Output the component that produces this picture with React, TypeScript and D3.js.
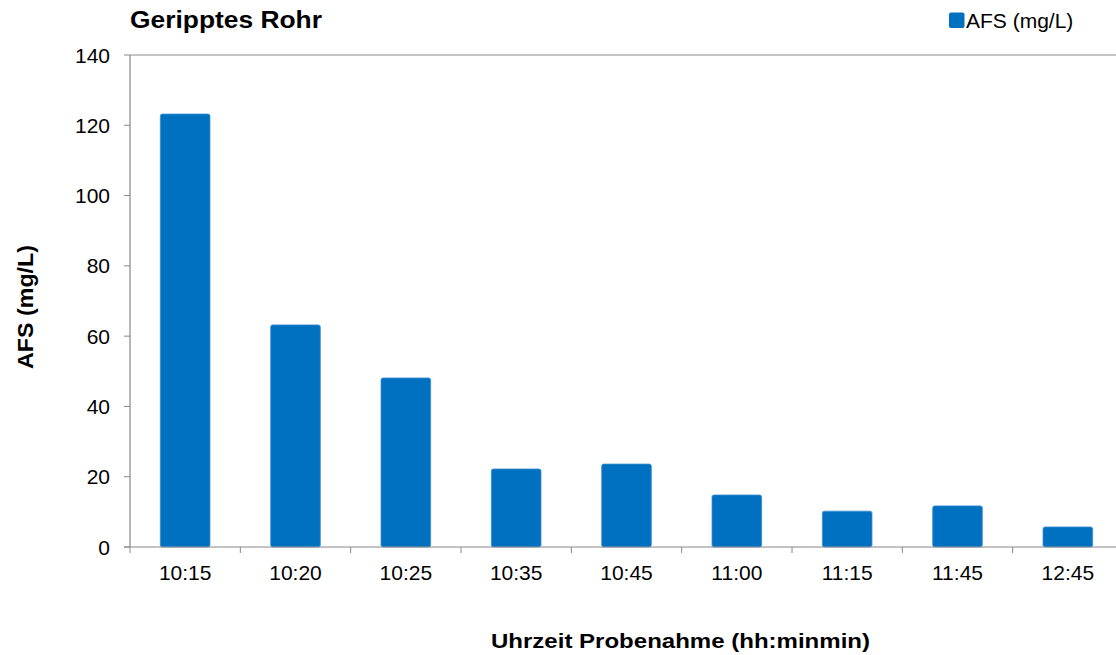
import React from "react";
import * as d3 from "d3";

const categories = ["10:15", "10:20", "10:25", "10:35", "10:45", "11:00", "11:15", "11:45", "12:45"];
const afsValues = [123.2, 63.2, 48.1, 22.2, 23.6, 14.8, 10.2, 11.7, 5.7];
const yTicks = [0, 20, 40, 60, 80, 100, 120, 140];

const W = 1116;
const H = 655;
const left = 130;
const right = 1123;
const top = 55;
const bottom = 547;
const font = "'Liberation Sans', Arial, sans-serif";
const barColor = "#0070C0";

export default function App() {
  const x = d3.scaleBand<string>().domain(categories).range([left, right]).paddingInner(0).paddingOuter(0);
  const y = d3.scaleLinear().domain([0, 140]).range([bottom, top]);
  const bw = x.bandwidth() * 0.45;
  return (
    <svg width={W} height={H} style={{ position: "absolute", left: 0, top: 0, background: "#fff" }}>
      <text x={130} y={28} fontFamily={font} fontWeight="bold" fontSize={23} fill="#000"
        textLength={192} lengthAdjust="spacingAndGlyphs">Geripptes Rohr</text>
      <rect x={949} y={12.5} width={15.5} height={15.5} rx={2} fill={barColor} />
      <text x={966} y={28} fontFamily={font} fontSize={21} fill="#000">AFS (mg/L)</text>
      {/* top border line */}
      <line x1={left} x2={W} y1={y(140)} y2={y(140)} stroke="#888" strokeWidth={1} />
      {categories.map((c, i) => {
        const cx = (x(c) as number) + x.bandwidth() / 2;
        const v = afsValues[i];
        return (
          <rect key={c} x={cx - bw / 2} y={y(v)} width={bw} height={bottom - y(v)} rx={2}
            fill={barColor} stroke="#3d8fd0" strokeWidth={0.8} />
        );
      })}
      {/* y axis */}
      <line x1={left} x2={left} y1={top} y2={bottom} stroke="#888" strokeWidth={1.2} />
      {yTicks.map((t) => (
        <g key={t}>
          <line x1={left - 6} x2={left} y1={y(t)} y2={y(t)} stroke="#888" strokeWidth={1} />
          <text x={110} y={y(t) + 7.5} textAnchor="end" fontFamily={font} fontSize={21} fill="#000">{t}</text>
        </g>
      ))}
      {/* x axis */}
      <line x1={left - 6} x2={W} y1={bottom} y2={bottom} stroke="#888" strokeWidth={1.2} />
      {categories.map((c, i) => (
        <line key={"t" + c} x1={left + i * x.bandwidth()} x2={left + i * x.bandwidth()} y1={bottom} y2={bottom + 6} stroke="#888" strokeWidth={1} />
      ))}
      <line x1={right} x2={right} y1={bottom} y2={bottom + 6} stroke="#888" strokeWidth={1} />
      {categories.map((c) => (
        <text key={"l" + c} x={(x(c) as number) + x.bandwidth() / 2} y={580} textAnchor="middle" fontFamily={font} fontSize={21} fill="#000">{c}</text>
      ))}
      <text transform={`translate(33, 307) rotate(-90)`} x={-62} y={0} fontFamily={font} fontWeight="bold" fontSize={22} fill="#000"
        textLength={124} lengthAdjust="spacingAndGlyphs">AFS (mg/L)</text>
      <text x={491} y={648} fontFamily={font} fontWeight="bold" fontSize={21} fill="#000"
        textLength={379} lengthAdjust="spacingAndGlyphs">Uhrzeit Probenahme (hh:minmin)</text>
    </svg>
  );
}
